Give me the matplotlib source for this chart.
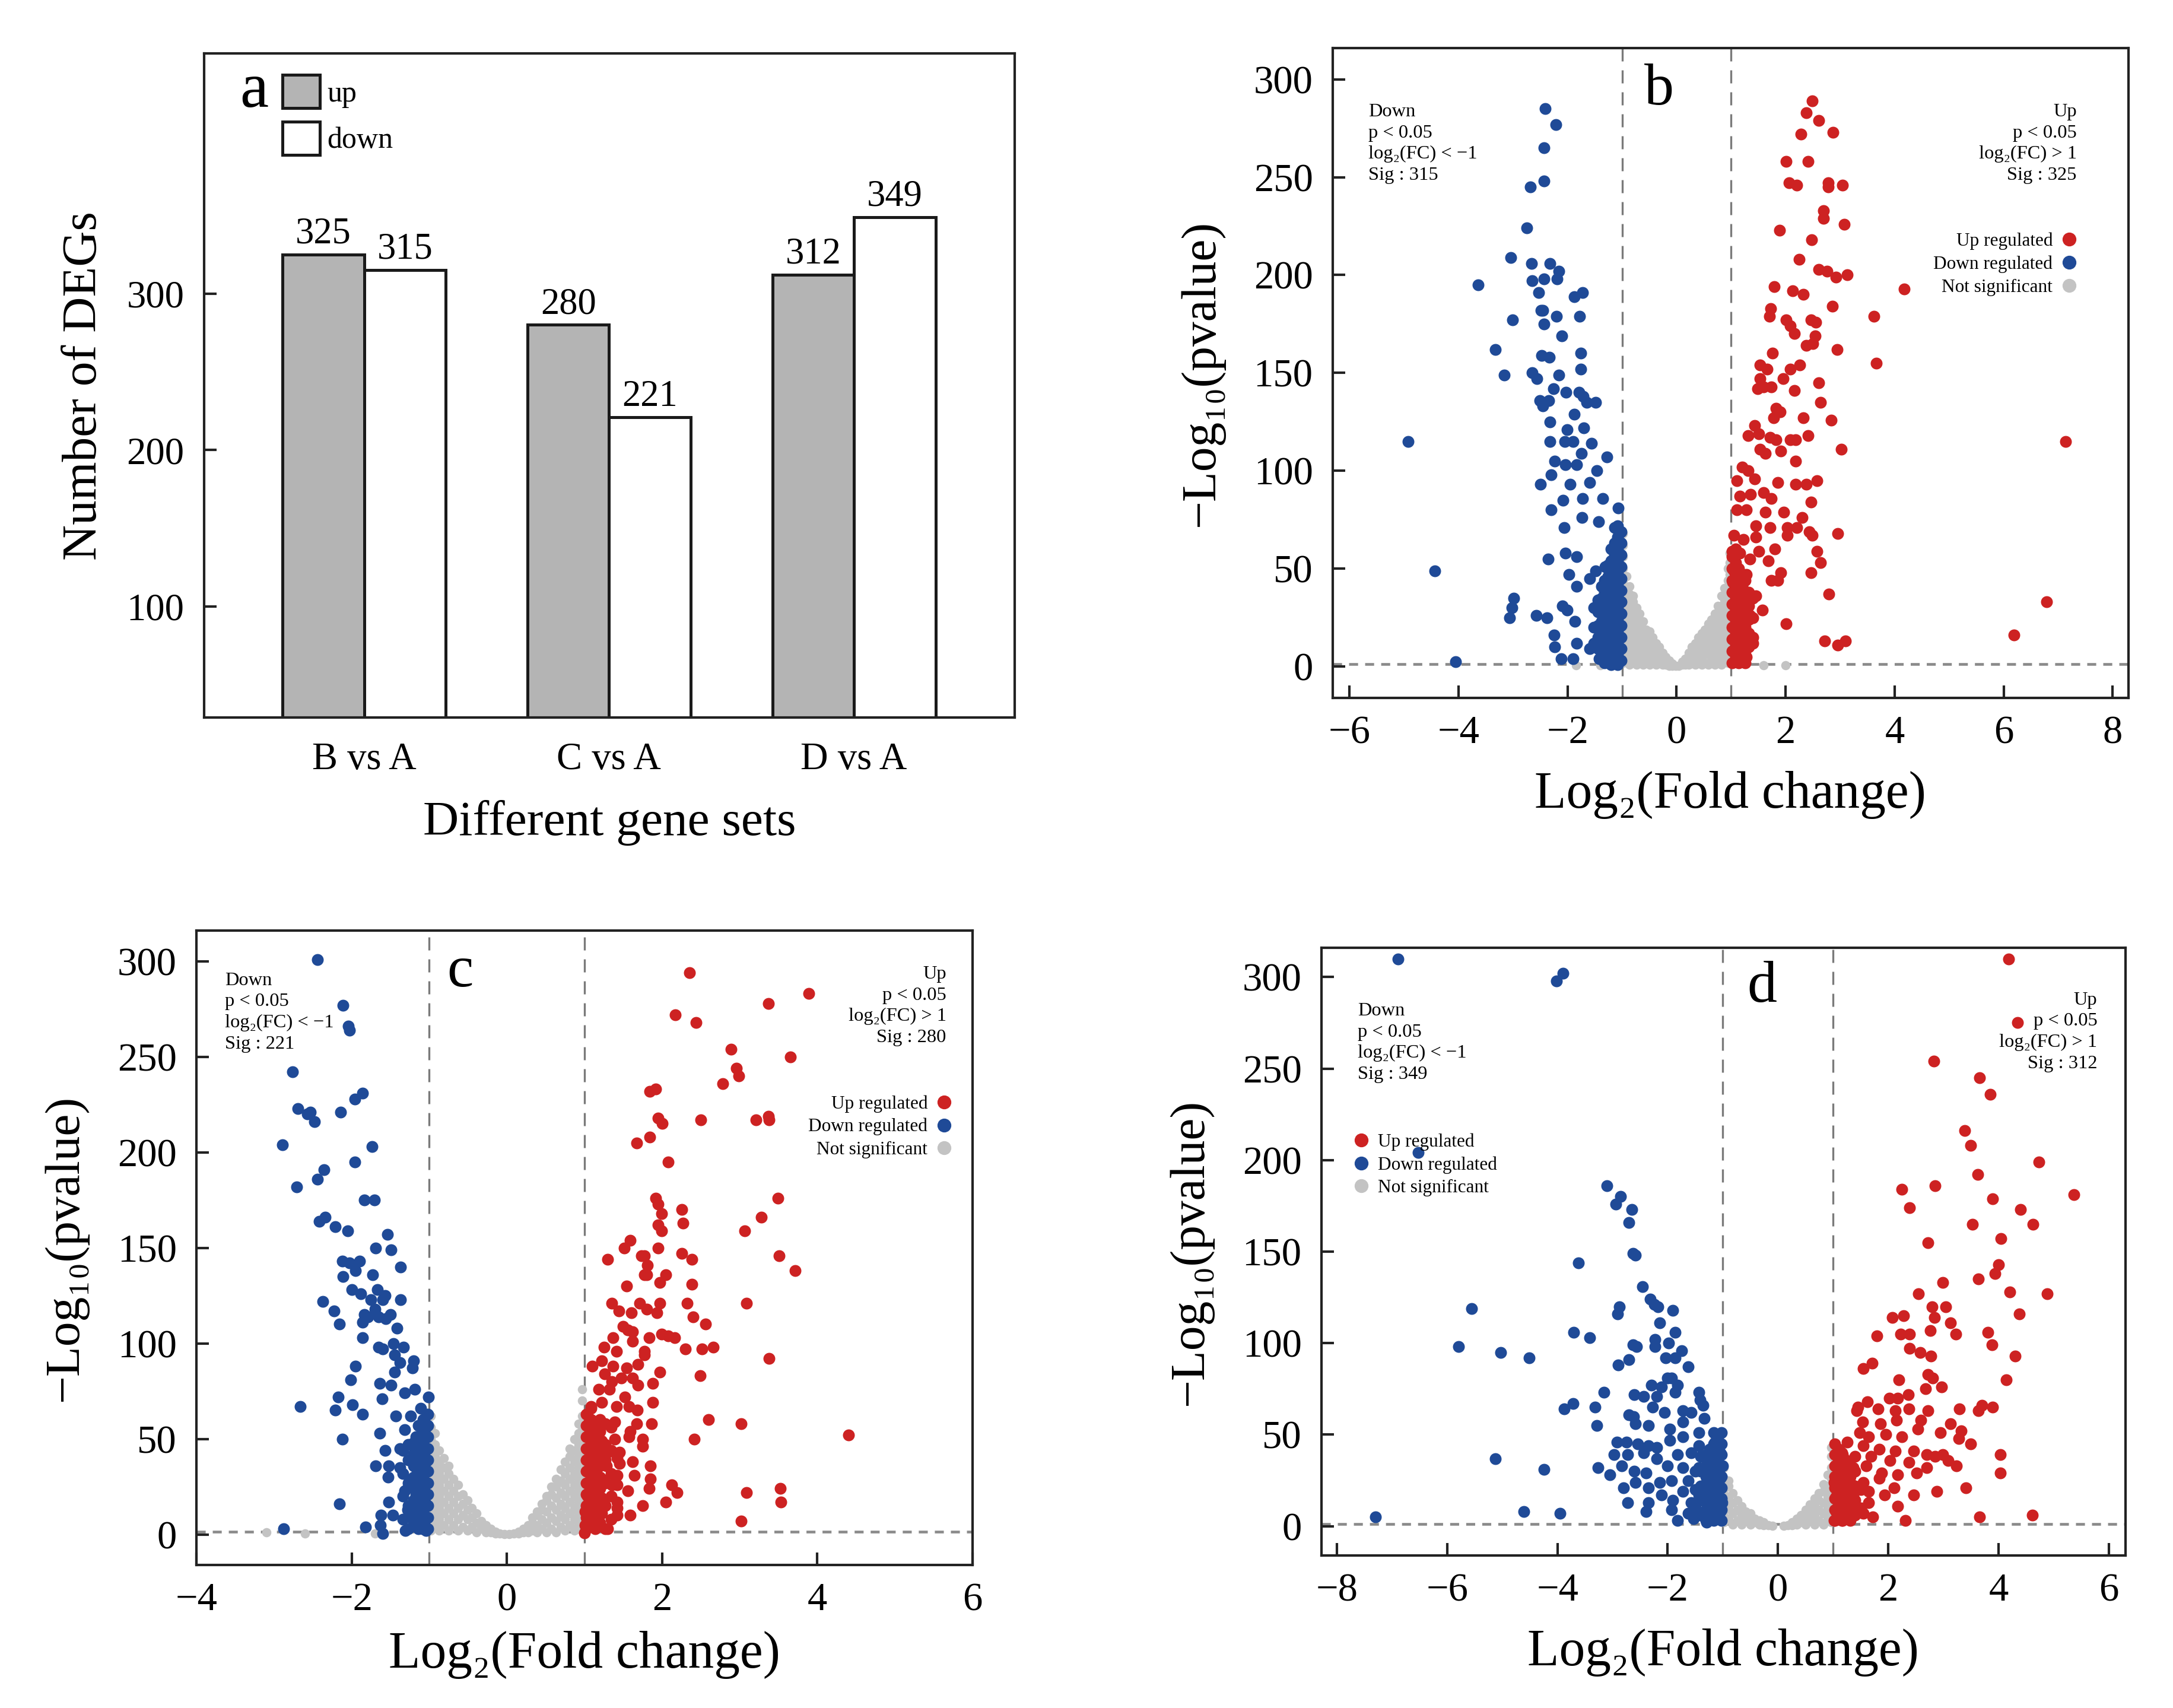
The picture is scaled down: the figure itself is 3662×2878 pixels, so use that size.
import numpy as np
import matplotlib
matplotlib.use('Agg')
import matplotlib.pyplot as plt
from matplotlib.lines import Line2D

plt.rcParams['font.family'] = ['Liberation Serif', 'DejaVu Serif']
plt.rcParams['axes.unicode_minus'] = True

# ---- panel a: number of DEGs
groups = ['B vs A', 'C vs A', 'D vs A']
n_up = [325, 280, 312]
n_down = [315, 221, 349]

# ---- panel b: B vs A  (log2FC, -log10 p)
b_down = [(-2.41, 285), (-2.21, 277), (-2.43, 265), (-2.43, 248), (-2.68, 245), (-2.75, 224), (-3.04, 209),
          (-2.66, 206), (-2.32, 206), (-2.16, 202), (-3.64, 195), (-2.65, 197), (-2.43, 198), (-2.19, 198),
          (-1.73, 191), (-2.53, 191), (-1.88, 189), (-2.49, 182), (-2.45, 182), (-2.20, 179), (-1.78, 179),
          (-3.01, 177), (-2.43, 175), (-2.11, 169), (-3.33, 162), (-2.48, 159), (-2.34, 158), (-1.76, 160),
          (-3.16, 149), (-2.65, 150), (-2.16, 149), (-1.76, 152), (-2.56, 147), (-2.26, 142), (-2.51, 136),
          (-2.35, 136), (-2.46, 133), (-2.03, 140), (-1.79, 140), (-1.49, 135), (-1.65, 135), (-1.72, 138),
          (-2.32, 125), (-1.88, 129), (-2.01, 121), (-1.70, 122), (-2.32, 115), (-2.05, 115), (-1.90, 115),
          (-1.56, 114), (-1.75, 109), (-1.28, 107), (-2.50, 93), (-2.24, 105), (-2.04, 103), (-1.83, 103),
          (-1.46, 100), (-2.30, 98), (-1.95, 93), (-1.60, 94), (-2.30, 80), (-2.08, 85), (-1.73, 86),
          (-1.36, 86), (-1.07, 81), (-2.06, 71), (-1.74, 76), (-1.43, 74), (-1.14, 71), (-2.36, 55),
          (-2.04, 58), (-1.98, 47), (-1.83, 56), (-1.49, 49), (-1.83, 41), (-1.60, 45), (-1.31, 51),
          (-1.08, 56), (-2.99, 35), (-3.02, 30), (-3.06, 25), (-2.58, 26), (-2.38, 25), (-2.10, 31),
          (-2.01, 29), (-2.25, 16), (-2.24, 10), (-1.87, 23), (-1.83, 12), (-2.12, 4), (-1.90, 4),
          (-1.42, 4), (-1.60, 9), (-4.05, 2.4), (-4.44, 49), (-4.93, 115)]
b_down_cols = [(-1.02, [3, 9, 15, 21, 27, 33, 39, 45, 51, 57, 63, 69]),
               (-1.08, [1, 6, 12, 18, 24, 30, 36, 42, 48, 54, 60, 66, 72]),
               (-1.14, [3, 9, 15, 21, 27, 33, 39, 45, 51, 57, 63]),
               (-1.20, [1, 6, 12, 18, 24, 30, 36, 42, 48, 54, 60]),
               (-1.26, [4, 10, 16, 22, 28, 34, 40, 46, 52]),
               (-1.32, [2, 8, 14, 20, 26, 32, 38, 44]),
               (-1.38, [5, 11, 17, 23, 29, 35, 41]),
               (-1.44, [9, 15, 21, 28, 34]),
               (-1.52, [12, 20, 30])]
b_up = [(2.49, 289), (2.38, 283), (2.61, 279), (2.87, 273), (2.28, 272), (2.01, 258), (2.41, 258), (2.06, 247),
        (2.20, 246), (2.78, 247), (3.04, 246), (2.78, 245), (2.70, 233), (2.69, 229), (3.08, 226), (1.89, 223),
        (2.48, 218), (2.25, 208), (2.61, 203), (2.76, 202), (2.92, 199), (3.13, 200), (4.18, 193), (1.79, 194),
        (2.13, 192), (2.32, 190), (2.86, 184), (1.73, 183), (1.70, 179), (2.01, 177), (2.09, 174), (2.16, 170),
        (2.47, 177), (2.55, 176), (3.62, 179), (2.54, 169), (2.50, 165), (2.38, 164), (2.94, 162), (1.76, 160),
        (1.53, 154), (1.66, 152), (1.53, 147), (1.95, 147), (2.09, 152), (2.26, 154), (3.66, 155), (1.49, 142),
        (1.59, 143), (1.74, 143), (2.61, 145), (2.16, 141), (1.82, 132), (1.90, 130), (2.64, 135), (2.32, 127),
        (2.84, 126), (1.78, 127), (1.43, 123), (1.31, 118), (1.51, 119), (1.72, 117), (1.82, 116), (2.09, 116),
        (2.18, 116), (2.41, 118), (7.14, 115), (3.02, 111), (1.53, 111), (1.63, 109), (1.91, 110), (2.18, 105),
        (1.20, 102), (1.31, 100), (1.43, 96), (1.86, 94), (2.18, 93), (2.38, 93), (2.57, 95), (1.11, 95),
        (1.16, 87), (1.36, 88), (1.60, 89), (1.74, 86), (2.47, 84), (1.11, 80), (1.28, 80), (1.63, 79),
        (1.97, 79), (2.30, 76), (1.45, 72), (1.71, 71), (2.03, 71), (2.20, 71), (2.43, 69), (2.49, 67),
        (2.96, 68), (1.05, 67), (1.22, 65), (1.45, 66), (2.03, 67), (1.51, 59), (1.80, 60), (2.58, 59),
        (1.02, 59), (1.16, 58), (1.34, 55), (1.68, 54), (1.91, 48), (2.47, 48), (2.64, 53), (1.05, 49),
        (1.28, 47), (1.74, 44), (1.86, 44), (2.79, 37), (1.03, 43), (1.22, 38), (1.45, 36), (1.57, 29),
        (2.01, 22), (1.11, 29), (1.34, 26), (2.72, 13), (2.96, 11), (3.10, 13), (1.16, 18), (1.40, 12),
        (1.28, 5), (1.22, 7), (6.19, 16), (6.79, 33)]
b_up_cols = [(1.02, [2, 8, 14, 20, 26, 32, 38, 44, 50, 56]),
             (1.08, [5, 11, 17, 23, 29, 35, 41, 47, 53, 60]),
             (1.14, [2, 8, 14, 20, 26, 32, 38, 44, 50]),
             (1.20, [5, 11, 17, 23, 29, 35, 41, 47]),
             (1.26, [2, 8, 14, 20, 26, 32, 38, 44]),
             (1.32, [10, 17, 24, 31, 38]),
             (1.40, [15, 25, 35])]
b_ns_cols = [(-1.40, [0.8]), (-1.85, [0.6]),
             (-0.98, [2, 8, 14, 20, 26, 32, 38, 44, 50, 56, 62, 68]),
             (-0.92, [4, 10, 16, 22, 28, 34, 40, 46]),
             (-0.86, [1, 7, 13, 19, 25, 31, 37, 41]),
             (-0.80, [3, 9, 15, 21, 27, 33, 36]),
             (-0.74, [1, 6, 12, 18, 24, 30]),
             (-0.68, [3, 9, 15, 21, 27]),
             (-0.62, [1, 6, 12, 18, 23]),
             (-0.56, [2, 8, 14, 19]),
             (-0.50, [1, 5, 10, 15, 18]),
             (-0.44, [2, 7, 12, 15]),
             (-0.38, [1, 5, 9, 12]),
             (-0.32, [2, 6, 10]),
             (-0.26, [1, 4, 7]),
             (-0.20, [1, 3, 5]),
             (-0.14, [0.5, 3]),
             (-0.08, [0.5, 1.5]),
             (-0.02, [0.3]),
             (0.04, [0.3]),
             (0.10, [1, 2.5]),
             (0.16, [1, 4]),
             (0.22, [1, 4, 7]),
             (0.28, [2, 6, 10]),
             (0.34, [1, 5, 9, 12]),
             (0.40, [2, 7, 12, 15]),
             (0.46, [1, 5, 10, 15, 17]),
             (0.52, [2, 8, 14, 19]),
             (0.58, [1, 6, 12, 18, 22]),
             (0.64, [3, 9, 15, 21, 24]),
             (0.70, [1, 7, 13, 19, 25, 27]),
             (0.76, [3, 9, 15, 21, 27, 31]),
             (0.82, [1, 7, 13, 19, 25, 31, 36]),
             (0.88, [4, 10, 16, 22, 28, 34, 40]),
             (0.94, [2, 8, 14, 20, 26, 32, 38, 44, 50]),
             (0.98, [5, 11, 17, 23, 29, 35, 41, 47, 53, 58]),
             (1.60, [0.6]), (2.00, [0.8])]

# ---- panel c: C vs A
c_down = [(-2.44, 301), (-2.11, 277), (-2.04, 266), (-2.03, 264), (-2.76, 242), (-2.69, 223), (-2.57, 220),
          (-2.53, 221), (-2.48, 216), (-2.14, 221), (-1.96, 228), (-1.86, 231), (-2.89, 204), (-1.74, 203),
          (-1.96, 195), (-2.36, 191), (-2.44, 186), (-2.71, 182), (-1.84, 175), (-1.71, 175), (-2.42, 164),
          (-2.34, 166), (-2.21, 161), (-2.05, 159), (-1.54, 157), (-1.69, 150), (-1.49, 149), (-2.12, 143),
          (-2.03, 142), (-1.90, 143), (-1.95, 138), (-1.37, 140), (-2.11, 135), (-1.73, 136), (-2.00, 128),
          (-1.88, 126), (-1.67, 128), (-1.57, 125), (-1.75, 123), (-1.60, 123), (-1.37, 123), (-2.37, 122),
          (-2.23, 117), (-1.84, 115), (-1.70, 118), (-1.50, 115), (-1.79, 114), (-1.65, 114), (-1.56, 113),
          (-1.86, 111), (-2.16, 110), (-1.42, 108), (-1.86, 103), (-1.65, 98), (-1.60, 97), (-1.46, 100),
          (-1.33, 98), (-1.45, 94), (-1.20, 91), (-1.38, 90), (-1.95, 88), (-1.45, 85), (-1.22, 87),
          (-2.01, 81), (-1.64, 79), (-1.49, 78), (-1.32, 74), (-1.19, 76), (-1.01, 72), (-1.61, 71),
          (-2.17, 72), (-1.99, 68), (-2.66, 67), (-2.21, 65), (-1.86, 63), (-1.43, 62), (-1.24, 62),
          (-1.11, 66), (-2.12, 50), (-1.64, 53), (-1.32, 55), (-1.17, 51), (-1.04, 56), (-1.57, 44),
          (-1.38, 45), (-1.21, 41), (-1.69, 36), (-1.52, 36), (-1.38, 35), (-1.14, 36), (-1.04, 38),
          (-1.53, 30), (-1.24, 28), (-1.07, 27), (-1.32, 23), (-1.17, 21), (-1.06, 17), (-2.16, 16),
          (-1.52, 17), (-1.62, 10), (-1.47, 10), (-1.28, 13), (-1.23, 10), (-1.05, 8), (-2.88, 3),
          (-1.82, 4), (-1.63, 5), (-1.31, 2), (-1.60, 0.5), (-1.09, 3), (-1.04, 2)]
c_down_cols = [(-1.02, [3, 9, 15, 21, 27, 33, 39, 45, 51, 57, 63]),
               (-1.08, [6, 12, 18, 24, 30, 36, 42, 48, 54, 60]),
               (-1.14, [3, 9, 15, 21, 27, 33, 39, 45, 51, 57]),
               (-1.20, [6, 12, 18, 24, 30, 36, 42, 48]),
               (-1.27, [3, 15, 27, 39, 47]),
               (-1.34, [8, 20, 32, 44])]
c_up = [(2.35, 294), (3.89, 283), (3.37, 278), (2.17, 272), (2.44, 268), (2.89, 254), (3.65, 250), (2.96, 244),
        (2.99, 240), (2.78, 236), (1.84, 232), (1.92, 233), (1.95, 218), (2.00, 215), (2.50, 217), (3.21, 217),
        (3.37, 219), (3.38, 217), (1.67, 205), (1.84, 208), (2.08, 195), (3.49, 176), (1.92, 176), (1.95, 173),
        (1.99, 168), (2.25, 170), (2.27, 163), (3.28, 166), (1.95, 162), (1.99, 159), (3.06, 159), (1.59, 154),
        (1.51, 150), (1.95, 150), (1.73, 146), (1.77, 146), (1.30, 144), (2.25, 147), (2.38, 144), (3.51, 146),
        (3.71, 138), (1.81, 141), (1.77, 136), (1.80, 136), (2.05, 136), (1.54, 130), (1.97, 132), (2.38, 131),
        (1.35, 121), (1.44, 117), (1.60, 116), (1.71, 121), (1.80, 118), (1.93, 116), (1.97, 121), (2.32, 121),
        (2.40, 114), (3.09, 121), (1.50, 109), (1.56, 107), (1.62, 106), (1.83, 103), (1.99, 105), (2.08, 104),
        (2.16, 103), (2.56, 110), (1.37, 103), (1.25, 98), (1.41, 96), (1.62, 101), (1.77, 96), (2.30, 97),
        (2.51, 97), (2.66, 98), (3.38, 92), (1.10, 88), (1.22, 91), (1.37, 88), (1.54, 87), (1.69, 89),
        (1.77, 94), (1.26, 84), (1.35, 80), (1.47, 82), (1.62, 82), (1.97, 85), (2.49, 83), (1.18, 76),
        (1.32, 76), (1.52, 72), (1.69, 78), (1.88, 79), (1.08, 67), (1.22, 69), (1.41, 67), (1.57, 67),
        (1.68, 65), (1.88, 69), (1.06, 59), (1.20, 60), (1.39, 59), (1.59, 54), (1.67, 58), (1.86, 58),
        (2.60, 60), (3.02, 58), (4.40, 52), (2.41, 50), (1.08, 52), (1.22, 49), (1.39, 50), (1.57, 51),
        (1.75, 50), (1.15, 44), (1.30, 43), (1.45, 43), (1.75, 46), (1.11, 38), (1.28, 36), (1.45, 37),
        (1.62, 38), (1.85, 36), (1.08, 31), (1.22, 29), (1.42, 31), (1.64, 31), (1.85, 29), (1.15, 25),
        (1.35, 26), (1.56, 23), (1.83, 24), (2.12, 26), (2.19, 22), (3.09, 22), (3.52, 24), (3.53, 17),
        (1.04, 20), (1.22, 19), (1.42, 17), (1.75, 15), (2.05, 17), (1.01, 12), (1.22, 11), (1.42, 10),
        (1.59, 10), (3.02, 7), (1.01, 5), (1.30, 3), (1.00, 0.7)]
c_up_cols = [(1.02, [3, 9, 15, 21, 27, 33, 39, 45, 51, 57, 63]),
             (1.08, [6, 12, 18, 24, 30, 36, 42, 48, 54, 60, 66]),
             (1.14, [3, 9, 15, 21, 27, 33, 39, 45, 51, 57]),
             (1.20, [6, 12, 18, 24, 30, 36, 42, 48, 54]),
             (1.27, [3, 15, 27, 39, 47, 58]),
             (1.34, [8, 20, 32, 44, 56]),
             (1.42, [14, 26, 40])]
c_ns_cols = [(-3.10, [1]), (-2.60, [0.5]), (-1.70, [0.6]),
             (-0.98, [2, 8, 14, 20, 26, 32, 38, 44, 50, 56, 62]),
             (-0.93, [5, 11, 17, 23, 29, 35, 41, 47, 53]),
             (-0.87, [2, 8, 14, 20, 26, 32, 38, 44]),
             (-0.81, [5, 11, 17, 23, 29, 35, 40]),
             (-0.75, [2, 8, 14, 20, 26, 32, 36]),
             (-0.69, [5, 11, 17, 23, 29]),
             (-0.63, [2, 8, 14, 20, 26]),
             (-0.57, [4, 10, 16, 21]),
             (-0.51, [2, 8, 13, 18]),
             (-0.45, [4, 9, 14]),
             (-0.39, [1, 6, 11]),
             (-0.33, [3, 7]),
             (-0.27, [1, 5]),
             (-0.21, [1, 3]),
             (-0.15, [0.5, 1.5]),
             (-0.09, [0.5]),
             (-0.03, [0.2]),
             (0.03, [0.2]),
             (0.09, [0.5]),
             (0.15, [0.5, 1.5]),
             (0.21, [1, 3]),
             (0.27, [1, 5]),
             (0.33, [2, 6, 9]),
             (0.39, [1, 5, 10, 12]),
             (0.45, [3, 8, 13, 16]),
             (0.51, [1, 6, 12, 18, 20]),
             (0.57, [3, 9, 15, 21, 25]),
             (0.63, [1, 7, 13, 19, 25, 29]),
             (0.69, [4, 10, 16, 22, 28, 34]),
             (0.75, [2, 8, 14, 20, 26, 32, 38]),
             (0.81, [5, 11, 17, 23, 29, 35, 41, 45]),
             (0.87, [2, 8, 14, 20, 26, 32, 38, 44, 50]),
             (0.92, [5, 11, 17, 23, 29, 35, 41, 47, 53, 58]),
             (0.97, [2, 8, 14, 20, 26, 32, 38, 44, 50, 56, 62, 70, 76])]

# ---- panel d: D vs A
d_down = [(-6.89, 310), (-3.90, 302), (-4.02, 298), (-6.52, 204), (-3.10, 186), (-2.86, 180), (-2.94, 176),
          (-2.65, 173), (-2.70, 166), (-2.63, 149), (-2.59, 148), (-3.62, 144), (-2.46, 131), (-2.32, 124),
          (-2.24, 121), (-2.18, 120), (-2.88, 120), (-2.91, 116), (-1.91, 118), (-5.56, 119), (-2.15, 111),
          (-3.70, 106), (-3.42, 103), (-1.87, 106), (-2.23, 102), (-1.98, 100), (-2.63, 99), (-2.56, 98),
          (-2.23, 98), (-5.79, 98), (-5.03, 95), (-4.51, 92), (-1.75, 96), (-2.90, 88), (-2.70, 91),
          (-2.04, 92), (-1.86, 92), (-1.63, 87), (-2.01, 81), (-1.93, 81), (-2.30, 77), (-2.11, 76),
          (-1.82, 77), (-1.86, 73), (-3.16, 73), (-1.43, 73), (-2.61, 72), (-2.44, 71), (-2.20, 71),
          (-1.41, 69), (-3.88, 64), (-3.72, 67), (-3.32, 65), (-2.27, 65), (-1.36, 66), (-2.70, 61),
          (-2.62, 60), (-2.06, 62), (-1.72, 63), (-1.58, 62), (-3.29, 55), (-2.59, 56), (-2.35, 55),
          (-1.96, 53), (-1.72, 57), (-1.34, 59), (-1.43, 51), (-2.92, 46), (-2.75, 46), (-2.54, 45),
          (-2.35, 44), (-2.20, 43), (-1.96, 47), (-1.72, 49), (-1.43, 44), (-1.14, 46), (-2.97, 39),
          (-2.73, 39), (-2.44, 40), (-2.20, 37), (-1.82, 39), (-1.58, 40), (-1.24, 38), (-1.05, 40),
          (-5.13, 37), (-4.24, 31), (-3.26, 32), (-3.05, 28), (-2.83, 33), (-2.61, 30), (-2.39, 29),
          (-2.01, 33), (-1.72, 32), (-1.43, 32), (-1.00, 33), (-2.80, 21), (-2.59, 24), (-2.35, 21),
          (-2.15, 24), (-1.93, 25), (-1.63, 25), (-1.29, 24), (-1.05, 26), (-2.11, 17), (-1.72, 19),
          (-1.43, 17), (-1.14, 19), (-2.73, 13), (-2.35, 13), (-1.91, 14), (-1.58, 13), (-1.24, 14),
          (-1.02, 13), (-4.61, 8), (-3.95, 7), (-7.30, 5), (-2.39, 8), (-1.93, 9), (-1.63, 7), (-1.34, 5),
          (-1.05, 8), (-1.82, 3), (-1.29, 2), (-1.53, 4)]
d_down_cols = [(-1.03, [3, 9, 15, 21, 27, 33, 39, 45, 51]),
               (-1.10, [6, 12, 18, 24, 30, 36, 42, 48]),
               (-1.17, [3, 9, 15, 21, 27, 33, 39, 45, 51]),
               (-1.24, [6, 12, 18, 24, 30, 36, 42]),
               (-1.31, [3, 9, 15, 21, 27, 33, 39]),
               (-1.40, [6, 14, 22, 30, 38]),
               (-1.50, [10, 20, 30])]
d_up = [(4.18, 310), (4.34, 275), (2.83, 254), (3.65, 245), (3.85, 236), (3.39, 216), (3.49, 208), (4.73, 199),
        (3.62, 192), (2.24, 184), (2.85, 186), (5.37, 181), (3.89, 179), (2.39, 174), (4.40, 173), (3.53, 165),
        (4.62, 165), (4.04, 157), (2.72, 155), (4.00, 143), (3.93, 138), (3.63, 135), (2.99, 133), (2.55, 127),
        (4.20, 128), (4.88, 127), (2.79, 120), (3.04, 120), (4.38, 116), (2.07, 114), (2.28, 115), (2.84, 114),
        (3.13, 111), (2.76, 107), (2.22, 105), (2.39, 105), (3.22, 105), (3.81, 106), (1.79, 104), (3.88, 99),
        (2.39, 97), (2.58, 95), (2.77, 93), (4.30, 93), (1.71, 89), (1.55, 86), (2.72, 83), (2.80, 81),
        (2.19, 80), (4.14, 80), (2.68, 75), (2.97, 76), (2.36, 72), (2.02, 70), (2.17, 70), (1.62, 68),
        (1.45, 65), (1.43, 63), (1.81, 64), (2.13, 63), (2.37, 64), (2.72, 63), (3.29, 64), (3.70, 66),
        (3.63, 63), (3.89, 65), (1.54, 57), (1.86, 56), (2.15, 58), (2.59, 58), (3.13, 56), (1.48, 51),
        (1.64, 49), (1.95, 50), (2.25, 49), (2.54, 53), (2.94, 51), (3.32, 52), (3.28, 48), (3.49, 45),
        (1.26, 46), (1.55, 44), (1.84, 42), (2.13, 41), (2.46, 41), (2.70, 39), (2.99, 39), (1.16, 40),
        (1.40, 38), (1.69, 38), (2.03, 36), (2.37, 35), (2.85, 38), (3.09, 36), (3.23, 33), (4.03, 39),
        (4.03, 29), (1.12, 34), (1.36, 32), (1.60, 33), (1.88, 29), (2.17, 28), (2.51, 29), (2.70, 32),
        (1.07, 25), (1.31, 24), (1.55, 24), (1.84, 26), (2.11, 21), (3.41, 21), (1.12, 19), (1.36, 17),
        (1.64, 19), (1.93, 17), (2.46, 17), (2.88, 19), (1.12, 12), (1.38, 12), (1.64, 13), (2.17, 11),
        (1.07, 5), (1.31, 4), (1.55, 7), (1.72, 5), (2.31, 3), (3.66, 5), (4.61, 6), (1.16, 3), (1.02, 3),
        (1.05, 8), (1.05, 16), (1.02, 24)]
d_up_cols = [(1.03, [3, 9, 15, 21, 27, 33, 39, 45]),
             (1.10, [6, 12, 18, 24, 30, 36, 42]),
             (1.17, [3, 9, 15, 21, 27, 33, 39]),
             (1.24, [6, 12, 18, 24, 30, 36]),
             (1.31, [3, 9, 15, 21, 27, 33]),
             (1.40, [6, 14, 22, 30]),
             (1.50, [10, 20])]
d_ns_cols = [(-0.98, [2, 8, 14, 20, 26, 32]),
             (-0.90, [4, 10, 16, 22, 25]),
             (-0.82, [1, 7, 13, 18]),
             (-0.74, [3, 9, 14]),
             (-0.66, [1, 6, 11]),
             (-0.58, [3, 8]),
             (-0.50, [1, 5, 7]),
             (-0.42, [2, 4]),
             (-0.34, [1, 3]),
             (-0.26, [0.5, 2]),
             (-0.18, [0.5]),
             (-0.10, [0.3]),
             (0.10, [0.3]),
             (0.18, [0.5]),
             (0.26, [0.5, 2]),
             (0.34, [1, 4]),
             (0.42, [2, 6]),
             (0.50, [1, 5, 9]),
             (0.58, [3, 8, 12]),
             (0.66, [1, 6, 11, 15]),
             (0.74, [3, 9, 14, 18]),
             (0.82, [1, 7, 13, 19, 23]),
             (0.90, [4, 10, 16, 22, 28]),
             (0.97, [2, 8, 14, 20, 26, 32, 38, 43])]

RED = '#cd2222'
BLUE = '#1f4a97'
GREY = '#c3c3c3'


def expand(pairs, cols):
	xs = [p[0] for p in pairs]
	ys = [p[1] for p in pairs]
	for x, yl in cols:
		for y in yl:
			xs.append(x)
			ys.append(y)
	return xs, ys


def style_axes(ax):
	for s in ax.spines.values():
		s.set_linewidth(1.0)
		s.set_color('#222222')
	ax.tick_params(direction='in', length=5, width=1.0, color='#222222', labelsize=16, pad=8)


def volcano(ax, up, up_cols, down, down_cols, ns_cols, xlim, xticks, letter, letter_x,
            n_down_sig, n_up_sig, down_pos, up_pos, leg_anchor, xpad, leg_right=True):
	ux, uy = expand(up, up_cols)
	dx, dy = expand(down, down_cols)
	gx, gy = expand([], ns_cols)
	ax.scatter(gx, gy, s=14, color=GREY, linewidths=0, zorder=2)
	ax.scatter(dx, dy, s=23, color=BLUE, linewidths=0, zorder=3)
	ax.scatter(ux, uy, s=23, color=RED, linewidths=0, zorder=3)
	ax.axvline(-1, color='#7a7a7a', lw=0.8, ls=(0, (6.6, 4.5)), zorder=1)
	ax.axvline(1, color='#7a7a7a', lw=0.8, ls=(0, (6.6, 4.5)), zorder=1)
	ax.axhline(-np.log10(0.05), color='#8a8a8a', lw=1.1, ls=(0, (3.3, 2.6)), zorder=1)
	ax.set_xlim(*xlim)
	ax.set_ylim(-16, 316)
	ax.set_xticks(xticks)
	ax.set_yticks([0, 50, 100, 150, 200, 250, 300])
	style_axes(ax)
	ax.tick_params(axis='x', pad=7)
	ax.set_xlabel('Log\u2082(Fold change)', fontsize=21, labelpad=xpad)
	ax.set_ylabel('\u2212Log\u2081\u2080(pvalue)', fontsize=20, labelpad=12)
	ax.text(letter_x, 0.935, letter, transform=ax.transAxes, ha='center', va='center', fontsize=24)
	ax.text(down_pos[0], down_pos[1], 'Down\np < 0.05\nlog\u2082(FC) < \u22121\nSig : %d' % n_down_sig,
	        transform=ax.transAxes, ha='left', va='top', fontsize=7.8, linespacing=1.3)
	ax.text(up_pos[0], up_pos[1], 'Up\np < 0.05\nlog\u2082(FC) > 1\nSig : %d' % n_up_sig,
	        transform=ax.transAxes, ha='right', va='top', fontsize=7.8, linespacing=1.3)
	handles = [Line2D([], [], marker='o', ls='', color=RED, markersize=4.6, label='Up regulated'),
	           Line2D([], [], marker='o', ls='', color=BLUE, markersize=4.6, label='Down regulated'),
	           Line2D([], [], marker='o', ls='', color=GREY, markersize=4.6, label='Not significant')]
	if leg_right:
		ax.legend(handles=handles, loc='upper right', bbox_to_anchor=leg_anchor, frameon=False,
		          fontsize=7.5, markerfirst=False, handlelength=0.8, handletextpad=0.5,
		          labelspacing=0.3, borderpad=0, borderaxespad=0)
	else:
		ax.legend(handles=handles, loc='upper left', bbox_to_anchor=leg_anchor, frameon=False,
		          fontsize=7.5, markerfirst=True, handlelength=0.8, handletextpad=0.5,
		          labelspacing=0.3, borderpad=0, borderaxespad=0)


fig = plt.figure(figsize=(3662 / 300, 2878 / 300), dpi=300)

# panel a
ax_a = fig.add_axes([0.0939, 0.5799, 0.3730, 0.3888])
w = 1 / 3
xpos = np.arange(len(groups))
ax_a.bar(xpos - w / 2, n_up, w, color='#b4b4b4', edgecolor='#1a1a1a', linewidth=1.2, label='up')
ax_a.bar(xpos + w / 2, n_down, w, color='white', edgecolor='#1a1a1a', linewidth=1.2, label='down')
for i in range(len(groups)):
	ax_a.text(xpos[i] - w / 2, n_up[i] + 2, str(n_up[i]), ha='center', va='bottom', fontsize=15)
	ax_a.text(xpos[i] + w / 2, n_down[i] + 2, str(n_down[i]), ha='center', va='bottom', fontsize=15)
ax_a.set_xlim(-0.654, 2.656)
ax_a.set_ylim(29, 453.5)
ax_a.set_xticks(xpos)
ax_a.set_xticklabels(groups)
ax_a.set_yticks([100, 200, 300])
style_axes(ax_a)
ax_a.tick_params(axis='y', labelsize=15.5)
ax_a.tick_params(axis='x', length=0, labelsize=15.5, pad=10)
ax_a.set_xlabel('Different gene sets', fontsize=20, labelpad=9)
ax_a.set_ylabel('Number of DEGs', fontsize=20, labelpad=8)
ax_a.text(0.062, 0.92, 'a', transform=ax_a.transAxes, ha='center', va='baseline', fontsize=26)
ax_a.legend(loc='upper left', bbox_to_anchor=(0.097, 0.968), frameon=False, fontsize=12,
            handlelength=1.25, handleheight=1.35, handletextpad=0.25, labelspacing=0.45,
            borderpad=0, borderaxespad=0)

# panel b
ax_b = fig.add_axes([0.6133, 0.5914, 0.3662, 0.3805])
volcano(ax_b, b_up, b_up_cols, b_down, b_down_cols, b_ns_cols, (-6.31, 8.29),
        [-6, -4, -2, 0, 2, 4, 6, 8], 'b', 0.41, 315, 325,
        (0.045, 0.915), (0.935, 0.915), (0.935, 0.716), 8, leg_right=True)

# panel c
ax_c = fig.add_axes([0.0904, 0.0837, 0.3572, 0.3714])
volcano(ax_c, c_up, c_up_cols, c_down, c_down_cols, c_ns_cols, (-4.0, 6.0),
        [-4, -2, 0, 2, 4, 6], 'c', 0.340, 221, 280,
        (0.037, 0.935), (0.966, 0.945), (0.973, 0.741), 5, leg_right=True)

# panel d
ax_d = fig.add_axes([0.6081, 0.0893, 0.3700, 0.3558])
volcano(ax_d, d_up, d_up_cols, d_down, d_down_cols, d_ns_cols, (-8.28, 6.30),
        [-8, -6, -4, -2, 0, 2, 4, 6], 'd', 0.548, 349, 312,
        (0.045, 0.91), (0.965, 0.928), (0.04, 0.695), 8, leg_right=False)

fig.savefig('out.png', dpi=300)
